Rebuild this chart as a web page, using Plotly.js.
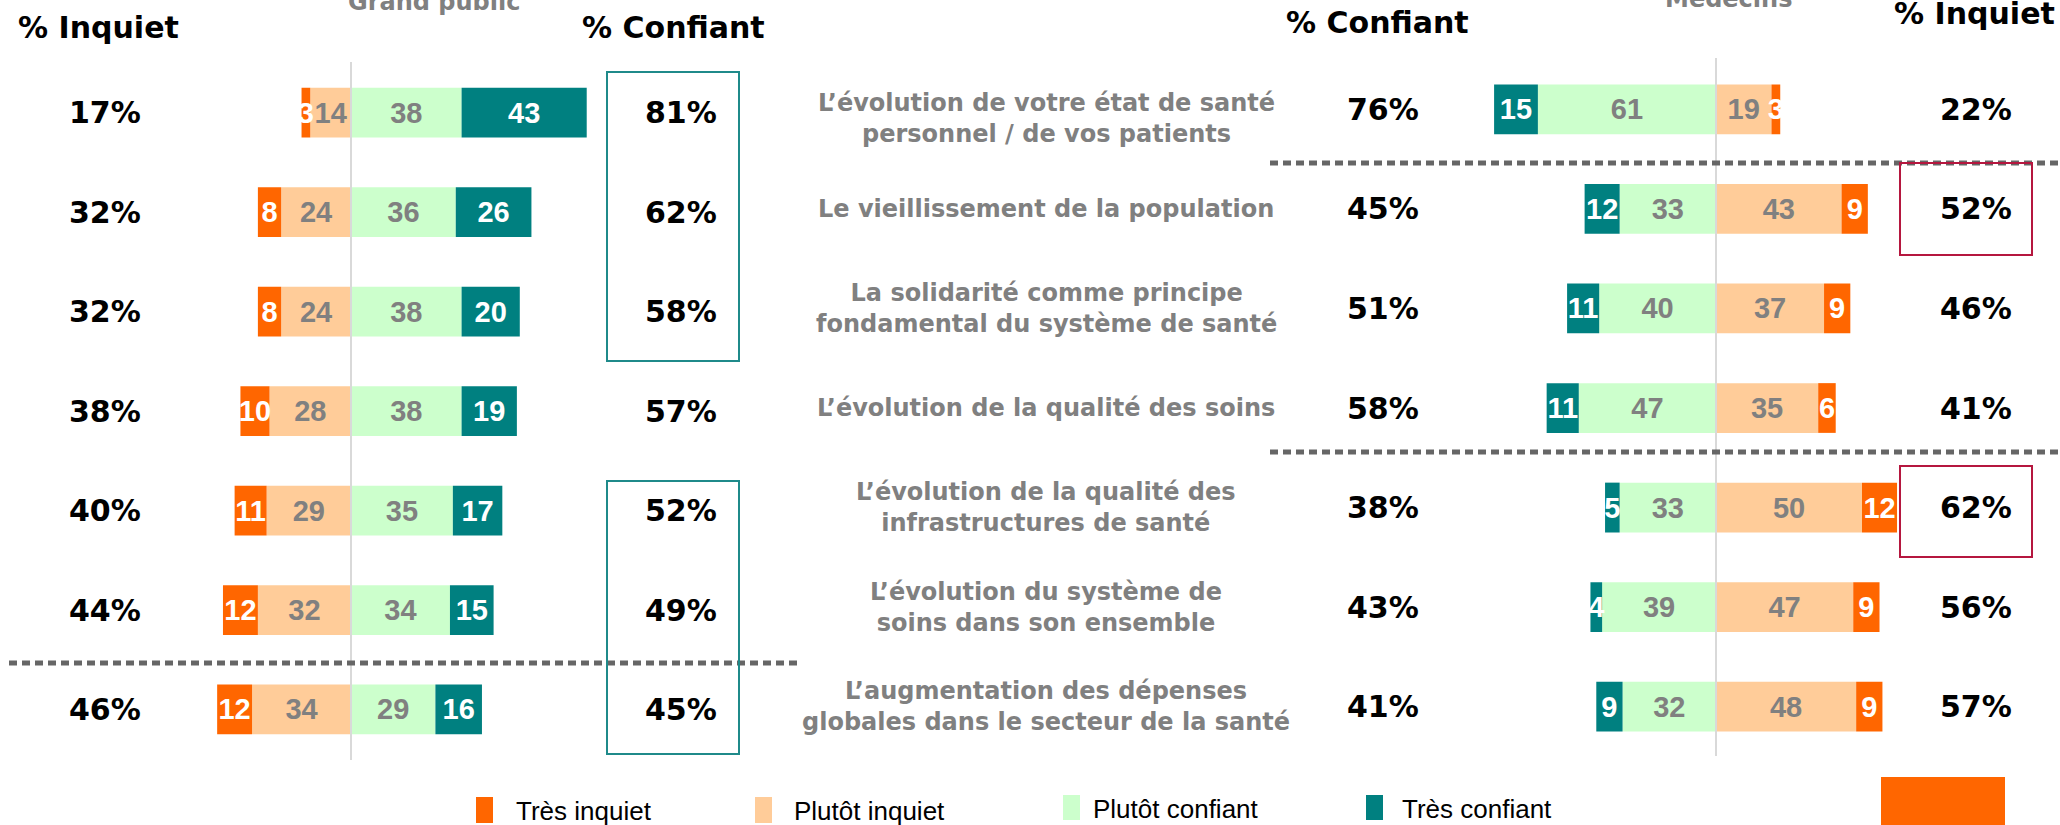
<!DOCTYPE html>
<html><head><meta charset="utf-8">
<script src="https://cdn.plot.ly/plotly-3.0.1.min.js"></script>
<style>html,body{margin:0;padding:0;background:#fff}#chart{width:2060px;height:825px}</style>
</head><body><div id="chart"></div>
<script>
// ---- data ----
const labels = [
  'L\u2019évolution de votre état de santé<br>personnel / de vos patients',
  'Le vieillissement de la population',
  'La solidarité comme principe<br>fondamental du système de santé',
  'L\u2019évolution de la qualité des soins',
  'L\u2019évolution de la qualité des<br>infrastructures de santé',
  'L\u2019évolution du système de<br>soins dans son ensemble',
  'L\u2019augmentation des dépenses<br>globales dans le secteur de la santé'
];
const gpTresInquiet    = [3, 8, 8, 10, 11, 12, 12];
const gpPlutotInquiet  = [14, 24, 24, 28, 29, 32, 34];
const gpPlutotConfiant = [38, 36, 38, 38, 35, 34, 29];
const gpTresConfiant   = [43, 26, 20, 19, 17, 15, 16];
const gpInquiet  = [17, 32, 32, 38, 40, 44, 46];
const gpConfiant = [81, 62, 58, 57, 52, 49, 45];

const medTresConfiant   = [15, 12, 11, 11, 5, 4, 9];
const medPlutotConfiant = [61, 33, 40, 47, 33, 39, 32];
const medPlutotInquiet  = [19, 43, 37, 35, 50, 47, 48];
const medTresInquiet    = [3, 9, 9, 6, 12, 9, 9];
const medConfiant = [76, 45, 51, 58, 38, 43, 41];
const medInquiet  = [22, 52, 46, 41, 62, 56, 57];

const seriesNames  = ['Très inquiet', 'Plutôt inquiet', 'Plutôt confiant', 'Très confiant'];
const seriesColors = ['#FF6600', '#FFCC99', '#CCFFCC', '#008080'];
const textColors   = ['#FFFFFF', '#808080', '#808080', '#FFFFFF'];
const panelTitles  = ['Grand public', 'Médecins'];
const headInquiet = '% Inquiet', headConfiant = '% Confiant';

// ---- helpers ----
const W = 2060, H = 825;
const px = v => v / W;
const py = v => 1 - v / H;

function bar(vals, sign, idx, xa, ya) {
  return {
    type: 'bar', orientation: 'h', y: labels, x: vals.map(v => sign * v),
    text: vals.map(String), textposition: 'inside', insidetextanchor: 'middle',
    constraintext: 'none', textangle: 0,
    textfont: {family: 'Liberation Sans', size: 29, weight: 'bold', color: textColors[idx]},
    marker: {color: seriesColors[idx], line: {width: 0}},
    xaxis: xa, yaxis: ya, hoverinfo: 'skip', showlegend: false, name: seriesNames[idx]
  };
}

const data = [
  bar(gpPlutotInquiet, -1, 1, 'x', 'y'),
  bar(gpTresInquiet, -1, 0, 'x', 'y'),
  bar(gpPlutotConfiant, 1, 2, 'x', 'y'),
  bar(gpTresConfiant, 1, 3, 'x', 'y'),
  bar(medPlutotConfiant, -1, 2, 'x2', 'y2'),
  bar(medTresConfiant, -1, 3, 'x2', 'y2'),
  bar(medPlutotInquiet, 1, 1, 'x2', 'y2'),
  bar(medTresInquiet, 1, 0, 'x2', 'y2')
];

const ann = [];
const headFont = {family: 'DejaVu Sans', size: 30, weight: 'bold', color: '#000'};
const panelFont = {family: 'DejaVu Sans', size: 24, weight: 'bold', color: '#808080'};
function txt(text, x, y, font, extra) {
  ann.push(Object.assign({text, x: px(x), y: py(y), xref: 'paper', yref: 'paper',
    xanchor: 'center', yanchor: 'middle', showarrow: false, font}, extra || {}));
}
txt(headInquiet, 98, 28, headFont);
txt(headConfiant, 673, 28, headFont);
txt(panelTitles[0], 434, 2, panelFont);
txt(headConfiant, 1377, 23, headFont);
txt(panelTitles[1], 1728, -1, panelFont);
txt(headInquiet, 1974, 14, headFont);

const pctFont = {family: 'DejaVu Sans', size: 30, weight: 'bold', color: '#000'};
labels.forEach((lab, i) => {
  ann.push({text: gpInquiet[i] + '%', x: px(105), xref: 'paper', y: lab, yref: 'y',
    xanchor: 'center', yanchor: 'middle', showarrow: false, font: pctFont});
  ann.push({text: gpConfiant[i] + '%', x: px(681), xref: 'paper', y: lab, yref: 'y',
    xanchor: 'center', yanchor: 'middle', showarrow: false, font: pctFont});
  ann.push({text: medConfiant[i] + '%', x: px(1383), xref: 'paper', y: lab, yref: 'y2',
    xanchor: 'center', yanchor: 'middle', showarrow: false, font: pctFont});
  ann.push({text: medInquiet[i] + '%', x: px(1976), xref: 'paper', y: lab, yref: 'y2',
    xanchor: 'center', yanchor: 'middle', showarrow: false, font: pctFont});
  ann.push({text: lab, x: px(1046), xref: 'paper', y: lab, yref: 'y2',
    xanchor: 'center', yanchor: 'middle', align: 'center', showarrow: false,
    yshift: i === 0 ? -9 : 0,
    font: {family: 'DejaVu Sans', size: 24, weight: 'bold', color: '#808080'}});
});

// legend (manual)
const legSq = [[476, 797, 823], [755, 797, 823], [1063, 795, 820], [1366, 795, 820]];
const legTx = [514, 792, 1091, 1400];
const shapes = [];
seriesNames.forEach((n, i) => {
  shapes.push({type: 'rect', xref: 'paper', yref: 'paper', x0: px(legSq[i][0]), x1: px(legSq[i][0] + 17),
    y0: py(legSq[i][2]), y1: py(legSq[i][1]), fillcolor: seriesColors[i], line: {width: 0}});
  ann.push({text: n, x: px(legTx[i]), y: py((legSq[i][1] + legSq[i][2]) / 2 + 1), xref: 'paper', yref: 'paper',
    xanchor: 'left', yanchor: 'middle', showarrow: false,
    font: {family: 'Liberation Sans', size: 26, color: '#000'}});
});

// center lines
shapes.push({type: 'line', xref: 'x', yref: 'paper', x0: 0, x1: 0, y0: py(760), y1: py(62),
  line: {color: '#D9D9D9', width: 2}, layer: 'above'});
shapes.push({type: 'line', xref: 'x2', yref: 'paper', x0: 0, x1: 0, y0: py(756), y1: py(58),
  line: {color: '#D9D9D9', width: 2}, layer: 'above'});
// dotted separators
const dot = {color: '#666666', width: 5, dash: '8px,5px'};
shapes.push({type: 'line', xref: 'paper', yref: 'paper', x0: px(9), x1: px(802), y0: py(663), y1: py(663), line: dot});
shapes.push({type: 'line', xref: 'paper', yref: 'paper', x0: px(1270), x1: 1, y0: py(163), y1: py(163), line: dot});
shapes.push({type: 'line', xref: 'paper', yref: 'paper', x0: px(1270), x1: 1, y0: py(452), y1: py(452), line: dot});
// highlight boxes
function box(x0, y0, x1, y1, c) {
  shapes.push({type: 'rect', xref: 'paper', yref: 'paper', x0: px(x0), x1: px(x1), y0: py(y1), y1: py(y0),
    line: {color: c, width: 2}, fillcolor: 'rgba(0,0,0,0)'});
}
box(607, 72, 739, 361, '#1F8A8A');
box(607, 481, 739, 754, '#1F8A8A');
box(1900, 163, 2032, 255, '#B5173F');
box(1900, 466, 2032, 557, '#B5173F');
// orange block bottom right
shapes.push({type: 'rect', xref: 'paper', yref: 'paper', x0: px(1881), x1: px(2005), y0: 0, y1: py(777),
  fillcolor: '#FF6600', line: {width: 0}});

// axis geometry: zero line at x=351px (left) / 1716px (right), ~2.91 px per point
const layout = {
  width: W, height: H, margin: {l: 0, r: 0, t: 0, b: 0},
  paper_bgcolor: '#fff', plot_bgcolor: 'rgba(0,0,0,0)',
  barmode: 'relative', bargap: 0.5, showlegend: false,
  xaxis: {domain: [px(160), px(610)], range: [-65.64, 89.0], visible: false, fixedrange: true},
  yaxis: {domain: [0.0797, 0.9239], type: 'category', range: [6.5, -0.5], visible: false, fixedrange: true},
  xaxis2: {domain: [px(1450), px(1930)], range: [-91.1, 73.29], visible: false, anchor: 'y2', fixedrange: true},
  yaxis2: {domain: [0.0833, 0.9276], type: 'category', range: [6.5, -0.5], visible: false, anchor: 'x2', fixedrange: true},
  annotations: ann, shapes: shapes
};
Plotly.newPlot('chart', data, layout, {displayModeBar: false, staticPlot: true});
</script></body></html>
